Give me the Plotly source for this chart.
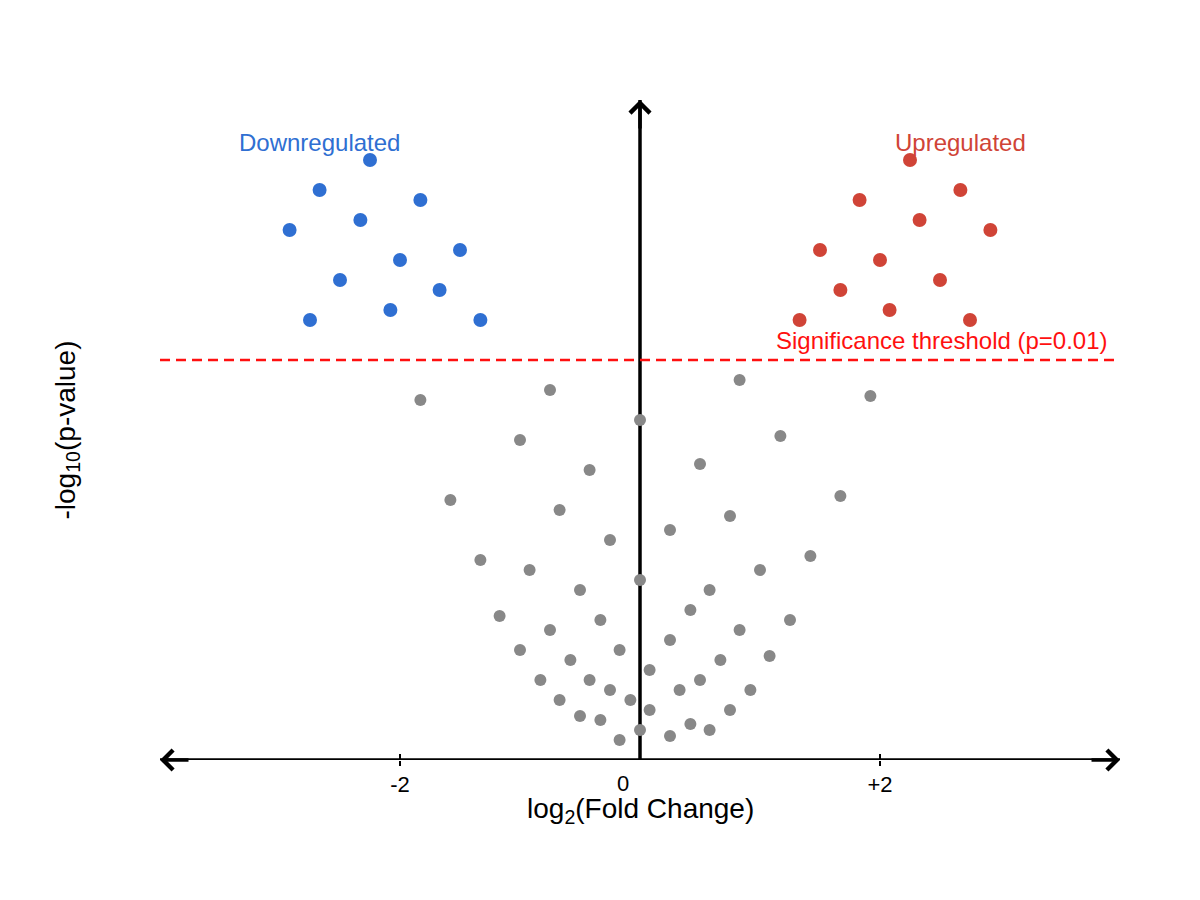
import plotly.graph_objects as go

# ------------------ data (log2 fold change, -log10 p-value) ------------------
down_fc = [-2.25, -2.67, -1.83, -2.33, -2.92, -1.50, -2.00, -2.50, -1.67, -2.08, -2.75, -1.33]
down_p = [3.00, 2.85, 2.80, 2.70, 2.65, 2.55, 2.50, 2.40, 2.35, 2.25, 2.20, 2.20]

up_fc = [2.25, 2.67, 1.83, 2.33, 2.92, 1.50, 2.00, 1.67, 2.50, 2.08, 1.33, 2.75]
up_p = [3.00, 2.85, 2.80, 2.70, 2.65, 2.55, 2.50, 2.35, 2.40, 2.25, 2.20, 2.20]

ns_fc = [-1.83, -0.75, 0.83, 1.92, 0.00, -1.00, 1.17, -0.42, 0.50, -1.58,
         1.67, -0.67, 0.75, 0.25, -0.25, -1.33, 1.42, -0.92, 1.00, 0.00,
         -0.50, 0.58, 0.42, -1.17, -0.33, 1.25, -0.75, 0.83, 0.25, -1.00,
         -0.17, 1.08, -0.58, 0.67, 0.08, -0.83, -0.42, 0.50, -0.25, 0.33,
         0.92, -0.08, -0.67, 0.08, 0.75, -0.50, -0.33, 0.42, 0.58, 0.00,
         0.25, -0.17]
ns_p = [1.80, 1.85, 1.90, 1.82, 1.70, 1.60, 1.62, 1.45, 1.48, 1.30,
        1.32, 1.25, 1.22, 1.15, 1.10, 1.00, 1.02, 0.95, 0.95, 0.90,
        0.85, 0.85, 0.75, 0.72, 0.70, 0.70, 0.65, 0.65, 0.60, 0.55,
        0.55, 0.52, 0.50, 0.50, 0.45, 0.40, 0.40, 0.40, 0.35, 0.35,
        0.35, 0.30, 0.30, 0.25, 0.25, 0.22, 0.20, 0.18, 0.15, 0.15,
        0.12, 0.10]

threshold = 2.0  # -log10(0.01)
x_ticks = [-2, 2]
x_ticktext = ['-2', '+2']

BLUE = '#2F6FD2'
RED = '#D04437'
GRAY = '#888888'
FONT = 'Liberation Sans, Arial, sans-serif'

# ------------------ traces ------------------
fig = go.Figure()
fig.add_trace(go.Scatter(x=ns_fc, y=ns_p, mode='markers',
                         marker=dict(color=GRAY, size=12), name='Not significant'))
fig.add_trace(go.Scatter(x=down_fc, y=down_p, mode='markers',
                         marker=dict(color=BLUE, size=14), name='Downregulated'))
fig.add_trace(go.Scatter(x=up_fc, y=up_p, mode='markers',
                         marker=dict(color=RED, size=14), name='Upregulated'))

# axis lines (below the points) and threshold
fig.add_shape(type='line', x0=-4, x1=4, y0=0, y1=0, layer='below',
              line=dict(color='black', width=3.5))
fig.add_shape(type='line', x0=0, x1=0, y0=0, y1=3.3, layer='below',
              line=dict(color='black', width=3.5))
fig.add_shape(type='line', x0=-4, x1=3.96, y0=threshold, y1=threshold,
              line=dict(color='#FF1010', width=2.5, dash='10px,6px'))

# arrowheads
arrow = dict(text='', showarrow=True, arrowhead=4, arrowwidth=3.5, arrowsize=1.1,
             arrowcolor='black', axref='pixel', ayref='pixel')
fig.add_annotation(x=-4, y=0, ax=30, ay=0, **arrow)
fig.add_annotation(x=4, y=0, ax=-30, ay=0, **arrow)
fig.add_annotation(x=0, y=3.3, ax=0, ay=30, **arrow)

# labels
fig.add_annotation(x=-2.67, y=3.09, text='Downregulated', showarrow=False,
                   font=dict(color=BLUE, size=24, family=FONT))
fig.add_annotation(x=2.67, y=3.09, text='Upregulated', showarrow=False,
                   font=dict(color=RED, size=24, family=FONT))
fig.add_annotation(x=3.92, y=2.1, text='Significance threshold (p=0.01)', showarrow=False,
                   xanchor='right', font=dict(color='#FF1010', size=24, family=FONT))
fig.add_annotation(x=-0.14, y=0, yshift=-23, text='0', showarrow=False,
                   font=dict(color='black', size=22, family=FONT))
fig.add_annotation(xref='paper', yref='paper', x=0.5, y=0, yshift=-70,
                   text='log<sub>2</sub>(Fold Change)', showarrow=False,
                   font=dict(color='black', size=28, family=FONT))
fig.add_annotation(xref='paper', yref='paper', x=0, y=0.5, xshift=-113, textangle=-90,
                   text='-log<sub>10</sub>(p-value)', showarrow=False,
                   font=dict(color='black', size=28, family=FONT))

fig.update_layout(width=1200, height=900,
                  margin=dict(l=152, r=88, t=92, b=148),
                  plot_bgcolor='white', paper_bgcolor='white',
                  showlegend=False,
                  font=dict(family=FONT, color='black'),
                  xaxis=dict(range=[-4, 4], showgrid=False, zeroline=False, showline=False,
                             tickvals=x_ticks, ticktext=x_ticktext,
                             ticks='outside', ticklen=5, tickwidth=1.5, tickcolor='black',
                             minor=dict(tickvals=x_ticks, ticks='inside', ticklen=6,
                                        tickwidth=1.5, tickcolor='black'),
                             tickfont=dict(size=22, family=FONT)),
                  yaxis=dict(range=[0, 3.3], visible=False))

fig.write_html("out.html")
